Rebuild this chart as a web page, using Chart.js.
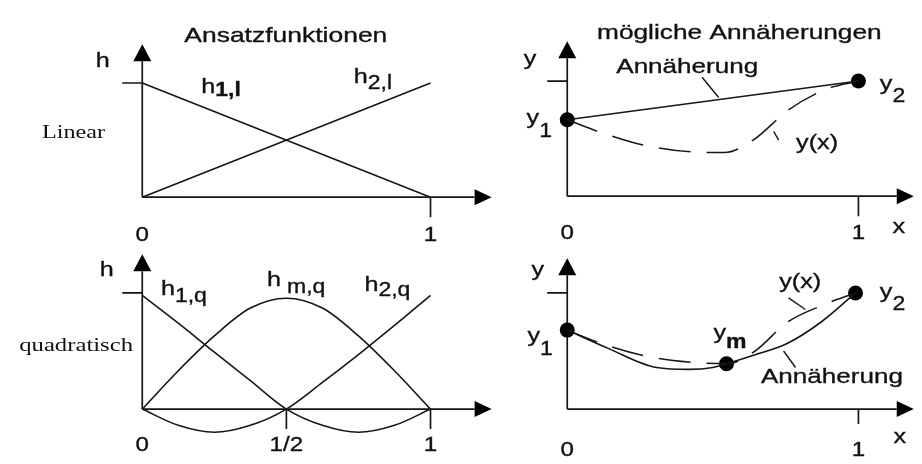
<!DOCTYPE html>
<html>
<head>
<meta charset="utf-8">
<title>Ansatzfunktionen</title>
<script src="https://cdn.jsdelivr.net/npm/chart.js@4/dist/chart.umd.min.js"></script>
<style>
  html, body { margin: 0; padding: 0; background: #fff; }
  #wrap { width: 922px; height: 464px; }
</style>
</head>
<body>
<div id="wrap"><canvas id="diagram" width="922" height="464"></canvas></div>
<script>
// --- linear shape functions ---
const linX = [0, 1];
const h1Lin = [1, 0];
const h2Lin = [0, 1];

// --- quadratic shape functions ---
const quadX = [0, 0.125, 0.25, 0.375, 0.5, 0.625, 0.75, 0.875, 1];
const h1Quad = [0.98, 0.74, 0.49, 0.245, 0, -0.14, -0.2, -0.14, 0];
const hmQuad = [0, 0.33, 0.63, 0.87, 0.955, 0.87, 0.63, 0.33, 0];
const h2Quad = [0, -0.14, -0.2, -0.14, 0, 0.23, 0.47, 0.72, 0.98];

// --- approximation, linear element ---
const nodesLinX = [0, 1];
const nodesLinY = [0.664, 1.0];
const yxTopX = [0, 0.12, 0.27, 0.48, 0.54, 0.64, 0.76, 0.885, 1];
const yxTopY = [0.664, 0.55, 0.44, 0.38, 0.38, 0.49, 0.75, 0.925, 1.0];

// --- approximation, quadratic element ---
const nodesQuadX = [0, 0.547, 0.99];
const nodesQuadY = [0.68, 0.39, 1.0];
const approxQuadX = [0, 0.139, 0.307, 0.419, 0.5, 0.547, 0.645, 0.757, 0.872, 0.99];
const approxQuadY = [0.68, 0.525, 0.358, 0.342, 0.358, 0.39, 0.467, 0.567, 0.75, 1.0];
const yxBotX = [0, 0.115, 0.267, 0.443, 0.55, 0.645, 0.757, 0.872, 0.99];
const yxBotY = [0.68, 0.567, 0.458, 0.40, 0.39, 0.5, 0.75, 0.89, 1.0];

// --- axis tick labels ---
const linTicks = [0, 1];
const linTickText = ['0', '1'];
const quadTicks = [0, 0.5, 1];
const quadTickText = ['0', '1/2', '1'];

const W = 922, H = 464;
const INK = '#161616';
const SANS = '"Liberation Sans", Arial, sans-serif';
const SERIF = '"Liberation Serif", "Times New Roman", serif';

function pts(xs, ys) { return xs.map((x, i) => ({ x: x, y: ys[i] })); }

// value range so that 0 and 1 land on the given pixels
function xRange(zeroPx, onePx) {
    const k = onePx - zeroPx;
    return { min: -zeroPx / k, max: (W - zeroPx) / k };
}
function yRange(zeroPx, onePx) {
    const k = zeroPx - onePx;
    return { min: (zeroPx - H) / k, max: zeroPx / k };
}

function scaleX(r) { return Object.assign({ type: 'linear', axis: 'x', display: false, bounds: 'data' }, r); }
function scaleY(r) { return Object.assign({ type: 'linear', axis: 'y', display: false, bounds: 'data' }, r); }

const solid = { borderColor: INK, borderWidth: 1.6, pointRadius: 0, fill: false, clip: false };
const dashed = Object.assign({}, solid, { borderDash: [32, 16], borderWidth: 1.5 });
const dots = { showLine: false, pointRadius: 7.5, pointBackgroundColor: '#000', pointBorderWidth: 0, borderColor: '#000', clip: false };

function line(xs, ys, xid, yid, style, extra) {
    return Object.assign({ data: pts(xs, ys), xAxisID: xid, yAxisID: yid }, style, extra || {});
}

// per-panel axes, ticks and text
const panels = [
    {
        xs: 'xTL', ys: 'yTL', yTip: 1.339, xTip: 1.212,
        ticks: linTicks, tickText: linTickText, tickBase: -0.38,
        labels: [
            { t: 'Ansatzfunktionen', x: 0.498, y: 1.356, sx: 1.26 },
            { t: 'h', x: -0.137, y: 1.136 },
            { t: 'h', sub: '1,l', x: 0.229, y: 0.915, drop: 3, bold: true },
            { t: 'h', sub: '2,l', x: 0.758, y: 1.0, drop: 6 },
            { t: 'Linear', x: -0.348, y: 0.517, serif: true, size: 19, sx: 1.27, align: 'left' }
        ],
        leaders: []
    },
    {
        xs: 'xTR', ys: 'yTR', yTip: 1.345, xTip: 1.19,
        ticks: linTicks, tickText: linTickText, tickBase: -0.37,
        labels: [
            { t: 'mögliche Annäherungen', x: 0.591, y: 1.361, sx: 1.25 },
            { t: 'y', x: -0.128, y: 1.143 },
            { t: 'y', sub: '1', x: -0.118, y: 0.63, drop: 13 },
            { t: 'y', sub: '2', x: 1.095, y: 0.924, drop: 12 },
            { t: 'Annäherung', x: 0.412, y: 1.067, sx: 1.24 },
            { t: 'y(x)', x: 0.858, y: 0.412 },
            { t: 'x', x: 1.139, y: -0.319 }
        ],
        leaders: [
            [[0.463, 1.033], [0.52, 0.857]],
            [[0.709, 0.563], [0.726, 0.487]]
        ]
    },
    {
        xs: 'xBL', ys: 'yBL', yTip: 1.333, xTip: 1.212,
        ticks: quadTicks, tickText: quadTickText, tickBase: -0.358,
        labels: [
            { t: 'h', x: -0.123, y: 1.142 },
            { t: 'h', sub: '1,q', x: 0.089, y: 0.983, drop: 7 },
            { t: 'h', sub: 'm,q', x: 0.457, y: 1.058, drop: 7, gap: 6 },
            { t: 'h', sub: '2,q', x: 0.795, y: 1.017, drop: 5 },
            { t: 'quadratisch', x: -0.427, y: 0.5, serif: true, size: 19, sx: 1.3, align: 'left' }
        ],
        leaders: []
    },
    {
        xs: 'xBR', ys: 'yBR', yTip: 1.3, xTip: 1.19,
        ticks: linTicks, tickText: linTickText, tickBase: -0.4, tickLen: 15,
        labels: [
            { t: 'y', x: -0.101, y: 1.142 },
            { t: 'y', sub: '1', x: -0.115, y: 0.575, drop: 13 },
            { t: 'y', sub: 'm', x: 0.524, y: 0.6, drop: 9, bold: true },
            { t: 'y', sub: '2', x: 1.095, y: 0.958, drop: 12 },
            { t: 'y(x)', x: 0.8, y: 1.042 },
            { t: 'Annäherung', x: 0.909, y: 0.225, sx: 1.24 },
            { t: 'x', x: 1.142, y: -0.292 }
        ],
        leaders: [
            [[0.76, 0.958], [0.818, 0.858]],
            [[0.743, 0.5], [0.784, 0.358]]
        ]
    }
];

// text stretched horizontally; an optional thin outline makes the sans labels a bit heavier
function drawText(ctx, str, x, y, font, stretch, align, outline) {
    ctx.save();
    ctx.font = font;
    const w = ctx.measureText(str).width * stretch;
    const left = align === 'center' ? x - w / 2 : (align === 'right' ? x - w : x);
    ctx.translate(left, y);
    ctx.scale(stretch, 1);
    ctx.textAlign = 'left';
    ctx.textBaseline = 'alphabetic';
    ctx.fillText(str, 0, 0);
    if (outline) {
        ctx.lineWidth = outline;
        ctx.strokeText(str, 0, 0);
    }
    ctx.restore();
    return w;
}

const diagramAxes = {
    id: 'diagramAxes',
    beforeDatasetsDraw(chart) {
        const ctx = chart.ctx;
        ctx.save();
        ctx.strokeStyle = INK;
        ctx.fillStyle = '#000';
        ctx.lineWidth = 1.7;
        panels.forEach(p => {
            const sx = chart.scales[p.xs], sy = chart.scales[p.ys];
            const x0 = sx.getPixelForValue(0), y0 = sy.getPixelForValue(0);
            const yTop = sy.getPixelForValue(p.yTip), xEnd = sx.getPixelForValue(p.xTip);
            const head = 17;
            ctx.beginPath();
            ctx.moveTo(x0, y0); ctx.lineTo(x0, yTop + head);
            ctx.moveTo(x0, y0); ctx.lineTo(xEnd - head, y0);
            // tick at value 1 on the vertical axis
            const y1 = sy.getPixelForValue(1);
            ctx.moveTo(x0 - 20, y1); ctx.lineTo(x0, y1);
            p.ticks.forEach(v => {
                if (v === 0) return;
                const tx = sx.getPixelForValue(v);
                ctx.moveTo(tx, y0); ctx.lineTo(tx, y0 + (p.tickLen || 20));
            });
            ctx.stroke();
            // arrow heads
            ctx.beginPath();
            ctx.moveTo(x0, yTop); ctx.lineTo(x0 - 9, yTop + head); ctx.lineTo(x0 + 9, yTop + head); ctx.closePath();
            ctx.moveTo(xEnd, y0); ctx.lineTo(xEnd - head, y0 - 8); ctx.lineTo(xEnd - head, y0 + 8); ctx.closePath();
            ctx.fill();
        });
        ctx.restore();
    },
    afterDatasetsDraw(chart) {
        const ctx = chart.ctx;
        ctx.save();
        ctx.fillStyle = '#111';
        ctx.strokeStyle = INK;
        panels.forEach(p => {
            const sx = chart.scales[p.xs], sy = chart.scales[p.ys];
            const X = v => sx.getPixelForValue(v), Y = v => sy.getPixelForValue(v);
            p.tickText.forEach((txt, i) => {
                drawText(ctx, txt, X(p.ticks[i]), Y(p.tickBase), '21px ' + SANS, 1.15, 'center', 0.35);
            });
            p.labels.forEach(l => {
                const size = l.size || 21;
                const font = size + 'px ' + (l.serif ? SERIF : SANS);
                const w = drawText(ctx, l.t, X(l.x), Y(l.y), font, l.sx || 1.2, l.align || 'center', l.serif ? 0 : 0.35);
                if (l.sub) {
                    const subFont = (l.bold ? 'bold ' : '') + '20px ' + SANS;
                    drawText(ctx, l.sub, X(l.x) + w / 2 + (l.gap || 0), Y(l.y) + l.drop, subFont, 1.15, 'left', 0.35);
                }
            });
            ctx.lineWidth = 1.4;
            ctx.beginPath();
            p.leaders.forEach(seg => {
                ctx.moveTo(X(seg[0][0]), Y(seg[0][1]));
                ctx.lineTo(X(seg[1][0]), Y(seg[1][1]));
            });
            ctx.stroke();
        });
        ctx.restore();
    }
};

const ctx = document.getElementById('diagram').getContext('2d');
new Chart(ctx, {
    type: 'line',
    data: {
        datasets: [
            line(linX, h1Lin, 'xTL', 'yTL', solid),
            line(linX, h2Lin, 'xTL', 'yTL', solid),
            line(quadX, h1Quad, 'xBL', 'yBL', solid, { cubicInterpolationMode: 'monotone' }),
            line(quadX, hmQuad, 'xBL', 'yBL', solid, { cubicInterpolationMode: 'monotone' }),
            line(quadX, h2Quad, 'xBL', 'yBL', solid, { cubicInterpolationMode: 'monotone' }),
            line(yxTopX, yxTopY, 'xTR', 'yTR', dashed, { cubicInterpolationMode: 'monotone' }),
            line(nodesLinX, nodesLinY, 'xTR', 'yTR', solid),
            line(nodesLinX, nodesLinY, 'xTR', 'yTR', dots),
            line(yxBotX, yxBotY, 'xBR', 'yBR', dashed, { cubicInterpolationMode: 'monotone' }),
            line(approxQuadX, approxQuadY, 'xBR', 'yBR', solid, { cubicInterpolationMode: 'monotone' }),
            line(nodesQuadX, nodesQuadY, 'xBR', 'yBR', dots)
        ]
    },
    options: {
        responsive: false,
        animation: false,
        events: [],
        layout: { padding: 0 },
        plugins: { legend: { display: false }, tooltip: { enabled: false } },
        scales: {
            xTL: scaleX(xRange(137, 430)), yTL: scaleY(yRange(196, 78)),
            xTR: scaleX(xRange(569, 865)), yTR: scaleY(yRange(195, 76)),
            xBL: scaleX(xRange(137, 430)), yBL: scaleY(yRange(415, 295)),
            xBR: scaleX(xRange(569, 865)), yBR: scaleY(yRange(415, 295))
        }
    },
    plugins: [diagramAxes]
});
</script>
</body>
</html>
